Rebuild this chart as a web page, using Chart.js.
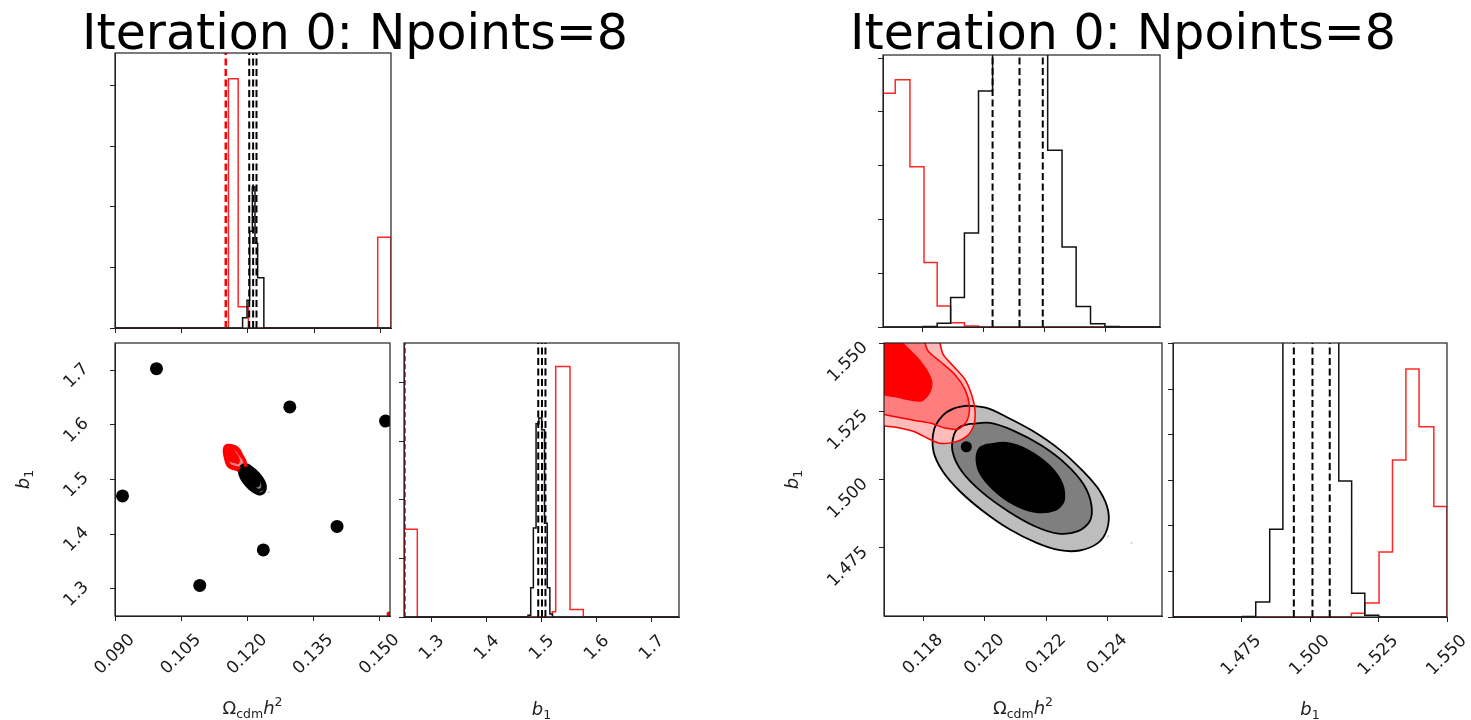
<!DOCTYPE html>
<html><head><meta charset="utf-8">
<script src="https://cdn.jsdelivr.net/npm/chart.js@4.4.1/dist/chart.umd.min.js"></script>
<style>
html,body{margin:0;padding:0;background:#fff;width:1471px;height:720px;overflow:hidden;position:relative;}
.title{position:absolute;top:8px;width:710px;text-align:center;font-family:'DejaVu Sans';font-size:49px;line-height:49px;color:#000;white-space:nowrap;}
canvas{position:absolute;}
</style></head><body>
<div class="title" style="left:0px">Iteration 0: Npoints=8</div>
<div class="title" style="left:768px">Iteration 0: Npoints=8</div>
<script>
// ================= DATA =================
const omegaTicksLeft = ['0.090','0.105','0.120','0.135','0.150'];
const b1TicksLeft = ['1.3','1.4','1.5','1.6','1.7'];
const omegaTicksRight = ['0.118','0.120','0.122','0.124'];
const b1TicksRight = ['1.475','1.500','1.525','1.550'];
const histTicksLeftTop = [0,1,2,3,4];
const histTicksLeftB1 = [0,1,2,3,4];
const histTicksRightTop = [0,1,2,3,4,5];
const histTicksRightB1 = [0,1,2,3,4,5,6];

// axis ranges
const omegaRangeLeft = [0.0900, 0.1523];
const b1RangeLeft = [1.25, 1.75];
const omegaRangeRight = [0.11672, 0.12577];
const b1RangeRight = [1.450, 1.550];
const histMaxLeftTop = 4.545, histMaxLeftB1 = 4.68, histMaxRightTop = 5.06, histMaxRightB1 = 6.02;

// the 8 design points
const pointsOmega = [0.0994, 0.1296, 0.1513, 0.0917, 0.1403, 0.1236, 0.1092, 0.1194];
const pointsB1    = [1.703, 1.633, 1.607, 1.470, 1.414, 1.371, 1.306, 1.512];
const speckOmega = [0.12402, 0.12478];
const speckB1 = [1.4792, 1.4768];
const redSpeckOmega = [0.1521];
const redSpeckB1 = [1.2535];

// quantile lines
const blackQOmega = [0.12030, 0.12118, 0.12194];
const blackQB1 = [1.4941, 1.5009, 1.5072];
const redQOmega = [0.1150];
const redQB1 = [1.2518];

// histograms, left figure (wide ranges)
const redOmegaEdgesL = [0.0900, 0.1156, 0.1178, 0.1201, 0.1493, 0.1523];
const redOmegaCountsL = [0, 4.12, 0.35, 0, 1.50];
const blackOmegaEdgesL = [0.0900, 0.1188, 0.1198, 0.1204, 0.1210, 0.1216, 0.1222, 0.1236, 0.1523];
const blackOmegaCountsL = [0, 0.17, 0.46, 1.6, 2.33, 1.4, 0.83, 0];
const redB1EdgesL = [1.25, 1.2742, 1.5196, 1.5258, 1.5518, 1.576, 1.75];
const redB1CountsL = [1.50, 0, 0.09, 4.28, 0.13, 0];
const blackB1EdgesL = [1.25, 1.4754, 1.4804, 1.4852, 1.4901, 1.4952, 1.5003, 1.5054, 1.5105, 1.5152, 1.52, 1.75];
const blackB1CountsL = [0, 0.03, 0.5, 1.52, 3.3, 3.4, 3.2, 1.6, 0.5, 0.05, 0];

// histograms, right figure (zoomed ranges)
const redOmegaEdgesR = [0.11666, 0.11712, 0.11760, 0.11806, 0.11849, 0.11893, 0.11938, 0.11984, 0.12577];
const redOmegaCountsR = [4.35, 4.60, 2.98, 1.20, 0.39, 0.08, 0.02, 0];
const blackOmegaEdgesR = [0.11666, 0.11803, 0.11849, 0.11893, 0.11938, 0.11984, 0.12030, 0.12075, 0.12121, 0.12166, 0.12210, 0.12257, 0.12303, 0.12350, 0.12397, 0.12443, 0.12577];
const blackOmegaCountsR = [0, 0.01, 0.07, 0.55, 1.75, 4.39, 5.7, 6.3, 6.1, 5.5, 3.29, 1.49, 0.38, 0.06, 0.01, 0];
const redB1EdgesR = [1.4500, 1.5151, 1.5200, 1.5252, 1.5301, 1.5350, 1.5398, 1.5452, 1.5500];
const redB1CountsR = [0, 0.08, 0.31, 1.43, 3.45, 5.45, 4.18, 2.43];
const blackB1EdgesR = [1.4500, 1.4754, 1.4802, 1.4853, 1.4901, 1.4952, 1.5003, 1.5054, 1.5105, 1.5152, 1.5200, 1.5251, 1.5500];
const blackB1CountsR = [0, 0.01, 0.33, 1.93, 7.0, 8.0, 7.8, 6.8, 2.99, 0.52, 0.04, 0];

// 2D contours [omega, b1]
const blackOuter = [[0.11941,1.52706],[0.12006,1.52621],[0.12071,1.52291],[0.12158,1.51767],[0.12244,1.51096],[0.12320,1.50303],[0.12375,1.49570],[0.12402,1.48838],[0.12398,1.48167],[0.12369,1.47679],[0.12309,1.47399],[0.12244,1.47411],[0.12169,1.47679],[0.12082,1.48167],[0.11995,1.48838],[0.11919,1.49570],[0.11863,1.50303],[0.11833,1.51035],[0.11835,1.51828],[0.11863,1.52340],[0.11898,1.52596]];
const blackMid = [[0.11952,1.52035],[0.12017,1.52072],[0.12093,1.51791],[0.12185,1.51242],[0.12266,1.50547],[0.12322,1.49815],[0.12347,1.49082],[0.12342,1.48472],[0.12304,1.48106],[0.12239,1.48021],[0.12163,1.48289],[0.12076,1.48838],[0.11990,1.49546],[0.11925,1.50303],[0.11895,1.51035],[0.11900,1.51645],[0.11919,1.51925]];
const blackInner = [[0.12006,1.51279],[0.12071,1.51340],[0.12141,1.51071],[0.12212,1.50486],[0.12253,1.49815],[0.12257,1.49204],[0.12228,1.48875],[0.12163,1.48814],[0.12095,1.49082],[0.12028,1.49632],[0.11984,1.50242],[0.11973,1.50791],[0.11984,1.51157]];
const redOuter = [[0.11854,1.5500],[0.11865,1.5457],[0.11898,1.5415],[0.11936,1.5366],[0.11957,1.5311],[0.11968,1.5256],[0.11965,1.5201],[0.11941,1.5158],[0.11898,1.5136],[0.11849,1.5134],[0.11805,1.5156],[0.11767,1.5177],[0.11713,1.5191],[0.11672,1.5197],[0.1162,1.5215],[0.1155,1.5260],[0.1150,1.5380],[0.1147,1.5520],[0.1149,1.5600],[0.1155,1.5630],[0.1166,1.5620],[0.1177,1.5580]];
const redMid = [[0.11805,1.5500],[0.11816,1.5470],[0.11854,1.5433],[0.11903,1.5384],[0.11936,1.5329],[0.11950,1.5268],[0.11943,1.5217],[0.11914,1.5185],[0.11870,1.5189],[0.11822,1.5207],[0.11767,1.5217],[0.11713,1.5229],[0.11672,1.5238],[0.1163,1.5245],[0.1157,1.5300],[0.1152,1.5420],[0.1150,1.5540],[0.1153,1.5600],[0.1160,1.5605],[0.1170,1.5570]];
const redInner = [[0.11735,1.5500],[0.11757,1.5476],[0.11789,1.5439],[0.11816,1.5396],[0.11830,1.5354],[0.11822,1.5317],[0.11795,1.5286],[0.11751,1.5290],[0.11708,1.5301],[0.11672,1.5308],[0.1160,1.5320],[0.1155,1.5400],[0.1152,1.5500],[0.1154,1.5570],[0.1160,1.5585],[0.1168,1.5560]];

// axis title pieces
const omegaLabel = [{t:'Ω',size:18},{t:'cdm',size:12.5,dy:3.5},{t:'h',size:18,italic:true},{t:'2',size:12.5,dy:-8}];
const b1Label = [{t:'b',size:18,italic:true},{t:'1',size:12.5,dy:3.5}];

// ================= HELPERS =================
function stepPoints(edges, counts) {
  const pts = [{x: edges[0], y: 0}];
  for (let i = 0; i < counts.length; i++) {
    pts.push({x: edges[i], y: counts[i]});
    pts.push({x: edges[i+1], y: counts[i]});
  }
  pts.push({x: edges[edges.length-1], y: 0});
  return pts;
}
function poly(pairs) {
  const p = pairs.map(([x,y]) => ({x, y}));
  p.push({x: pairs[0][0], y: pairs[0][1]});
  return p;
}
function zipPts(xs, ys) { return xs.map((x,i) => ({x, y: ys[i]})); }

const vlines = {
  id: 'vlines',
  afterDatasetsDraw(chart, args, opts) {
    const {ctx, chartArea: a} = chart; const xs = chart.scales.x;
    (opts.lines || []).forEach(l => l.values.forEach(v => {
      if (v < xs.min || v > xs.max) return;
      const px = xs.getPixelForValue(v);
      ctx.save();
      ctx.beginPath(); ctx.rect(a.left, a.top, a.right - a.left, a.bottom - a.top); ctx.clip();
      ctx.strokeStyle = l.color; ctx.lineWidth = l.width; ctx.setLineDash(l.dash);
      ctx.beginPath(); ctx.moveTo(px, a.bottom); ctx.lineTo(px, a.top); ctx.stroke();
      ctx.restore();
    }));
  }
};
const frame = {
  id: 'frame',
  afterDraw(chart) {
    const {ctx, chartArea: a} = chart;
    ctx.save(); ctx.strokeStyle = '#222'; ctx.lineWidth = 1.2;
    ctx.strokeRect(a.left, a.top, a.right - a.left, a.bottom - a.top);
    ctx.restore();
  }
};
const mathLabels = {
  id: 'mathLabels',
  afterDraw(chart, args, opts) {
    const {ctx, chartArea: a} = chart;
    const fontOf = p => (p.italic ? 'italic ' : '') + p.size + 'px "DejaVu Sans"';
    const draw = (parts, cx, cy, rot) => {
      ctx.save(); ctx.translate(cx, cy); ctx.rotate(rot);
      let w = 0; parts.forEach(p => { ctx.font = fontOf(p); w += ctx.measureText(p.t).width; });
      let x = -w / 2; ctx.fillStyle = '#222'; ctx.textBaseline = 'alphabetic'; ctx.textAlign = 'left';
      parts.forEach(p => { ctx.font = fontOf(p); ctx.fillText(p.t, x, p.dy || 0); x += ctx.measureText(p.t).width; });
      ctx.restore();
    };
    if (opts.x) draw(opts.x, (a.left + a.right) / 2, a.bottom + 98, 0);
    if (opts.y) draw(opts.y, a.left - 86, (a.top + a.bottom) / 2, -Math.PI / 2);
  }
};

function axis(dir, range, tickVals, labels, lab) {
  return {
    type: 'linear', min: range[0], max: range[1],
    afterBuildTicks: s => { s.ticks = tickVals.map(v => ({value: v})); },
    afterFit: s => { if (dir === 'x') s.height = 120; else s.width = 110; },
    grid: {display: true, drawOnChartArea: false, drawTicks: true, tickLength: 5, color: '#222', lineWidth: 1},
    border: {display: true, color: '#222', width: 1},
    ticks: {
      display: true, autoSkip: false, minRotation: 45, maxRotation: 45,
      padding: lab ? lab.pad : 3, labelOffset: lab ? lab.off : 0,
      color: '#1a1a1a', font: {family: 'DejaVu Sans', size: 17},
      callback: (v, i) => labels ? labels[i] : ''
    }
  };
}

function makeChart(box, datasets, scales, pl) {
  const c = document.createElement('canvas');
  const W = box.W + 150, H = box.H + 160;
  c.width = W; c.height = H;
  c.style.left = (box.L - 110) + 'px'; c.style.top = (box.T - 40) + 'px';
  c.style.width = W + 'px'; c.style.height = H + 'px';
  document.body.appendChild(c);
  new Chart(c, {
    type: 'line',
    data: {datasets},
    options: {
      responsive: false, animation: false, devicePixelRatio: 1, events: [],
      layout: {padding: {left: 0, top: 40, right: 40, bottom: 0}},
      scales,
      plugins: Object.assign({legend: {display: false}, tooltip: {enabled: false}, title: {display: false}}, pl)
    },
    plugins: [vlines, frame, mathLabels]
  });
}

function histSet(edges, counts, color, order) {
  return {data: stepPoints(edges, counts), borderColor: color, borderWidth: 1.5, pointRadius: 0, fill: false, tension: 0, order};
}
const RED = 'rgba(255,0,0,0.85)', BLK = '#111';
const dashBlack = {color: '#000', width: 2, dash: [7, 3.5]};

function contourSets(lw, ptR) {
  const f = (pairs, col, order) => ({data: poly(pairs), fill: 'shape', backgroundColor: col, borderWidth: 0, pointRadius: 0, tension: 0.3, order});
  const l = (pairs, col, w, order) => ({data: poly(pairs), fill: false, borderColor: col, borderWidth: w, pointRadius: 0, tension: 0.3, order});
  return [
    f(blackOuter, '#bdbdbd', 20), f(blackMid, '#7f7f7f', 19), f(blackInner, '#000', 18),
    f(redOuter, '#ffbaba', 17), f(redMid, '#ff7d7d', 16), f(redInner, '#ff0000', 15),
    l(blackOuter, '#000', lw, 12), l(blackMid, '#000', lw, 12), l(blackInner, '#000', lw, 12),
    l(redOuter, '#ff0000', lw * 0.85, 11), l(redMid, '#ff0000', lw * 0.85, 11),
    {data: zipPts(speckOmega, speckB1), showLine: false, pointRadius: 1.2, pointBackgroundColor: 'rgba(0,0,0,0.15)', pointBorderWidth: 0, order: 10},
    {data: zipPts(redSpeckOmega, redSpeckB1), showLine: false, pointRadius: 2.5, pointBackgroundColor: '#ff0000', pointBorderWidth: 0, order: 9},
    {data: zipPts(pointsOmega, pointsB1), showLine: false, pointRadius: ptR, pointBackgroundColor: '#000', pointBorderWidth: 0, order: 1}
  ];
}
const num = a => a.map(parseFloat);

// ================= LEFT FIGURE =================
makeChart({L:115, T:53, W:276, H:275},
  [histSet(redOmegaEdgesL, redOmegaCountsL, RED, 2), histSet(blackOmegaEdgesL, blackOmegaCountsL, BLK, 1)],
  {x: axis('x', omegaRangeLeft, num(omegaTicksLeft), null, null), y: axis('y', [0, histMaxLeftTop], histTicksLeftTop, null, null)},
  {vlines: {lines: [{color: '#ff0000', width: 2.5, dash: [7, 3.5], values: redQOmega}, Object.assign({values: blackQOmega}, dashBlack)]}});

makeChart({L:115, T:343, W:275, H:273},
  contourSets(3.2, 6.5),
  {x: axis('x', omegaRangeLeft, num(omegaTicksLeft), omegaTicksLeft, {pad: 9, off: 17}),
   y: axis('y', b1RangeLeft, num(b1TicksLeft), b1TicksLeft, {pad: 24, off: -4})},
  {mathLabels: {x: omegaLabel, y: b1Label}});

makeChart({L:404, T:343, W:275, H:274},
  [histSet(redB1EdgesL, redB1CountsL, RED, 2), histSet(blackB1EdgesL, blackB1CountsL, BLK, 1)],
  {x: axis('x', b1RangeLeft, num(b1TicksLeft), b1TicksLeft, {pad: 9, off: 10}), y: axis('y', [0, histMaxLeftB1], histTicksLeftB1, null, null)},
  {vlines: {lines: [{color: '#cc0000', width: 1.5, dash: [5, 3], values: redQB1}, Object.assign({values: blackQB1}, dashBlack)]}, mathLabels: {x: b1Label}});

// ================= RIGHT FIGURE =================
makeChart({L:883, T:55, W:277, H:272},
  [histSet(redOmegaEdgesR, redOmegaCountsR, RED, 2), histSet(blackOmegaEdgesR, blackOmegaCountsR, BLK, 1)],
  {x: axis('x', omegaRangeRight, num(omegaTicksRight), null, null), y: axis('y', [0, histMaxRightTop], histTicksRightTop, null, null)},
  {vlines: {lines: [{color: '#ff0000', width: 2, dash: [7, 3.5], values: redQOmega}, Object.assign({values: blackQOmega}, dashBlack)]}});

makeChart({L:884, T:343, W:278, H:273},
  contourSets(1.8, 5.5),
  {x: axis('x', omegaRangeRight, num(omegaTicksRight), omegaTicksRight, {pad: 9, off: 17}),
   y: axis('y', b1RangeRight, num(b1TicksRight), b1TicksRight, {pad: 14, off: 2})},
  {mathLabels: {x: omegaLabel, y: b1Label}});

makeChart({L:1173, T:343, W:274, H:274},
  [histSet(redB1EdgesR, redB1CountsR, RED, 2), histSet(blackB1EdgesR, blackB1CountsR, BLK, 1)],
  {x: axis('x', b1RangeRight, num(b1TicksRight), b1TicksRight, {pad: 9, off: 17}), y: axis('y', [0, histMaxRightB1], histTicksRightB1, null, null)},
  {vlines: {lines: [{color: '#ff0000', width: 2, dash: [7, 3.5], values: redQB1}, Object.assign({values: blackQB1}, dashBlack)]}, mathLabels: {x: b1Label}});
</script>
</body></html>
